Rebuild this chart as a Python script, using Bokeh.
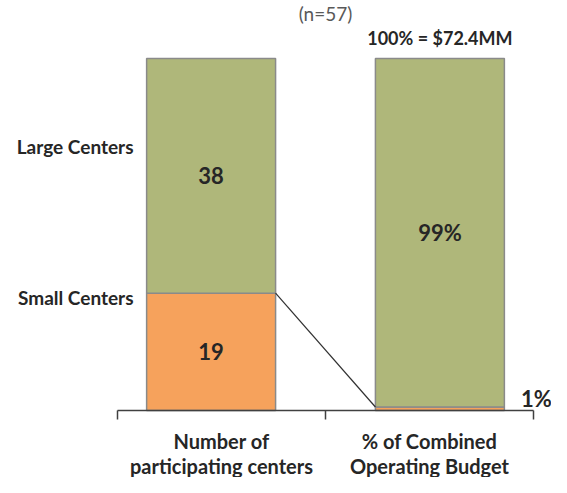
from bokeh.plotting import figure
from bokeh.models import ColumnDataSource, Range1d, LinearAxis, FixedTicker
from bokeh.core.properties import value
from bokeh.embed import file_html
from bokeh.resources import INLINE

# ---- data ----
categories = ["Number of\nparticipating centers", "% of Combined\nOperating Budget"]
segments = ["Small Centers", "Large Centers"]
center_counts = [19, 38]          # number of participating centers
budget_share = [1, 99]            # % of combined operating budget
n_total = 57
budget_total = "$72.4MM"
seg_colors = ["#F6A25C", "#AFB77A"]

FONT = "Lato"
DARK = "#262626"

# normalise each column to a 0..1 stack
def stack(vals):
    tot = float(sum(vals))
    bottoms, tops = [], []
    acc = 0.0
    for v in vals:
        bottoms.append(acc / tot)
        acc += v
        tops.append(acc / tot)
    return bottoms, tops

cb, ct = stack(center_counts)
bb, bt = stack(budget_share)

bar_w = 0.62
offset = 0.05
x_left = 0.5 - offset
x_right = 1.5 + offset

src = ColumnDataSource(dict(
    x=[x_left, x_left, x_right, x_right],
    bottom=cb + bb,
    top=ct + bt,
    color=seg_colors + seg_colors,
))

W, H = 551, 477
px_x = 208.0     # pixels per category
px_y = 352.0     # pixels per full bar
x0_px, y0_px = 117, 410
x_range = Range1d(-x0_px / px_x, (W - x0_px) / px_x)
y_range = Range1d(-(H - y0_px) / px_y, y0_px / px_y)

p = figure(width=W, height=H, output_backend="svg", toolbar_location=None,
           x_range=x_range, y_range=y_range,
           x_axis_type=None, y_axis_type=None, title=None,
           min_border_left=0, min_border_right=0, min_border_top=0,
           min_border_bottom=0)
p.outline_line_color = None
p.grid.visible = False
p.background_fill_color = "white"
p.border_fill_color = "white"

p.vbar(x="x", bottom="bottom", top="top", width=bar_w, fill_color="color",
       line_color="#8a8a8a", line_width=1.5, source=src)

# connector line from top of small-centers segment to top of 1% segment
p.line(x=[x_left + bar_w / 2, x_right - bar_w / 2], y=[ct[0], bt[0]],
       line_color="#303030", line_width=1.2)

# axis (drawn at y = 0, limited to the two categories)
ax = LinearAxis(ticker=FixedTicker(ticks=[0.5, 1.5], minor_ticks=[0, 1, 2]),
                major_label_overrides={0.5: categories[0], 1.5: categories[1]},
                fixed_location=0, bounds=(0, 2),
                major_tick_out=0, major_tick_in=0,
                minor_tick_out=9, minor_tick_in=0,
                minor_tick_line_color="#404040", minor_tick_line_width=1.5,
                axis_line_color="#404040", axis_line_width=1.5,
                major_label_text_font=FONT, major_label_text_font_style="bold",
                major_label_text_font_size="20px", major_label_text_color=DARK,
                major_label_text_line_height=1.05,
                major_label_standoff=9)
p.add_layout(ax, "below")

# value labels inside bars
p.text(x=[x_left, x_left, x_right],
       y=[(cb[1] + ct[1]) / 2, (cb[0] + ct[0]) / 2, (bb[1] + bt[1]) / 2],
       text=[str(center_counts[1]), str(center_counts[0]), f"{budget_share[1]}%"],
       text_font=value(FONT), text_font_style="bold", text_font_size="22px",
       text_color=DARK, text_align="center", text_baseline="middle")

# 1% label outside right bar
p.text(x=[x_right + bar_w / 2 + 0.08], y=[bt[0] + 0.025], text=[f"{budget_share[0]}%"],
       text_font=value(FONT), text_font_style="bold", text_font_size="22px",
       text_color=DARK, text_align="left", text_baseline="middle")

# total above right bar
p.text(x=[x_right], y=[1.057], text=[f"100% = {budget_total}"],
       text_font=value(FONT), text_font_style="bold", text_font_size="18px",
       text_color=DARK, text_align="center", text_baseline="middle")

# n label (title)
p.text(x=[1.0], y=[1.128], text=[f"(n={n_total})"],
       text_font=value(FONT), text_font_size="19px",
       text_color="#595959", text_align="center", text_baseline="middle")

# segment names at left
p.text(x=[0.077, 0.077], y=[0.32, 0.75], text=segments,
       text_font=value(FONT), text_font_style="bold", text_font_size="19px",
       text_color=DARK, text_align="right", text_baseline="middle")

open("out.html", "w").write(file_html(p, INLINE))
